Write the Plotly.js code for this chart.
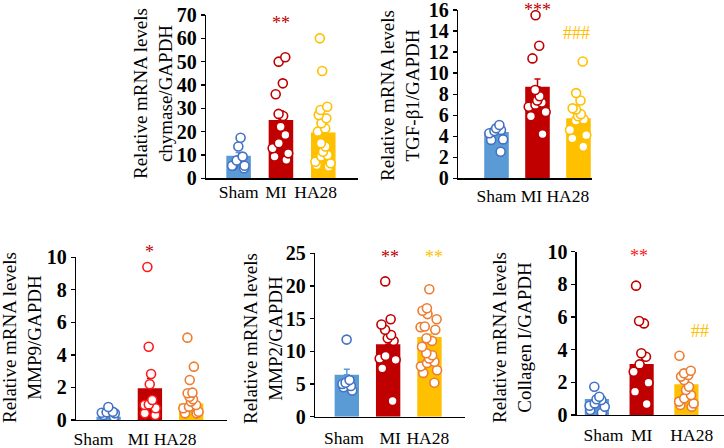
<!DOCTYPE html>
<html>
<head>
<meta charset="utf-8">
<script src="https://cdn.plot.ly/plotly-3.0.1.min.js"></script>
<style>
  html, body { margin: 0; padding: 0; background: #fff; }
  #chart { width: 724px; height: 448px; }
</style>
</head>
<body>
<div id="chart"></div>
<script>
// Data ------------------------------------------------------------------------
const groups = ['Sham', 'MI', 'HA28']

const chymaseMean = [9.7, 25.0, 19.6]
const chymaseSem = [1.4, 3.9, 2.4]
const chymaseSham = [17.4, 13.6, 9.3, 7.6, 5.4, 5.4, 5.4, 4.3]
const chymaseMI = [51.9, 50.0, 40.7, 36.0, 27.6, 26.7, 22.1, 18.6, 15.0, 12.9, 10.7, 9.3, 7.9]
const chymaseHA28 = [60.0, 46.0, 30.7, 29.3, 27.1, 25.7, 23.6, 21.4, 20.0, 15.0, 13.6, 11.4, 10.0, 9.3, 7.1, 6.4, 5.7, 5.0]

const tgfMean = [4.4, 8.7, 5.7]
const tgfSem = [0.3, 0.75, 0.35]
const tgfSham = [5.07, 4.75, 4.6, 4.5, 4.28, 3.7, 3.65, 2.53]
const tgfMI = [15.5, 12.6, 11.4, 8.4, 7.8, 7.4, 7.2, 7.0, 6.8, 6.3, 5.9, 4.2]
const tgfHA28 = [11.1, 8.1, 7.4, 6.65, 6.55, 6.1, 5.9, 5.6, 5.5, 4.6, 4.1, 3.8, 3.0]

const mmp9Mean = [0.2, 1.95, 1.02]
const mmp9Sem = [0.05, 0.6, 0.15]
const mmp9Sham = [0.8, 0.5, 0.47, 0.45, 0.41, 0.3, 0.2]
const mmp9MI = [9.4, 4.5, 2.83, 2.2, 1.23, 0.96, 0.92, 0.72, 0.41, 0.3]
const mmp9HA28 = [5.06, 3.28, 2.46, 1.68, 1.64, 1.43, 1.27, 1.13, 0.92, 0.82, 0.72, 0.51, 0.41, 0.41]

const mmp2Mean = [6.4, 11.1, 12.2]
const mmp2Sem = [0.85, 0.7, 0.4]
const mmp2Sham = [11.8, 5.6, 5.2, 5.0, 4.7, 4.5, 4.0]
const mmp2MI = [20.7, 14.9, 14.1, 13.3, 12.5, 12.0, 11.6, 9.3, 8.9, 8.7, 7.4, 2.4]
const mmp2HA28 = [19.5, 16.6, 16.2, 15.7, 14.9, 13.8, 13.7, 13.3, 12.0, 11.6, 10.7, 9.7, 9.4, 8.9, 8.4, 8.2, 7.7, 7.1, 6.7, 5.2]

const colMean = [0.98, 3.12, 1.88]
const colSem = [0.1, 0.5, 0.17]
const colSham = [1.73, 1.12, 0.96, 0.92, 0.71, 0.57, 0.51, 0.31, 0.14]
const colMI = [7.92, 5.76, 5.61, 3.78, 3.57, 3.1, 2.65, 1.98, 1.43, 0.67]
const colHA28 = [3.63, 2.71, 2.55, 2.45, 2.35, 2.14, 1.73, 1.53, 1.22, 1.02, 0.82, 0.71, 0.61, 0.51]

// Styles ----------------------------------------------------------------------
const W = 724
const H = 448
const FONT = '"Liberation Serif", "Times New Roman", serif'
const barColours = ['#5b9bd5', '#c00000', '#ffc000']
const BLUE = '#4472c4'
const DARKRED = '#c00000'
const RED = '#ff1a1a'
const GOLD = '#ffc000'
const ORANGE = '#ed7d31'

// pixel boxes: [left, right, top, bottom]
const panels = [
  {
    title: 'chymase/GAPDH', mean: chymaseMean, sem: chymaseSem,
    points: [chymaseSham, chymaseMI, chymaseHA28], dots: [BLUE, DARKRED, GOLD],
    box: [206, 358, 15, 178.3], xr: [-0.77, 2.82], yr: [0, 70], dtick: 10, bw: 0.58,
    shift: [0, -0.12, -0.18], standoff: -3, tx: 153, ty: 94,
    marks: [{ text: '**', g: 1, dx: 0, y: 66.5, c: DARKRED }]
  },
  {
    title: 'TGF-β1/GAPDH', mean: tgfMean, sem: tgfSem,
    points: [tgfSham, tgfMI, tgfHA28], dots: [BLUE, DARKRED, GOLD],
    box: [458, 592, 10, 178.3], xr: [-0.94, 2.33], yr: [0, 16], dtick: 2, bw: 0.6,
    shift: [0, -0.15, -0.26], standoff: 1, tx: 400, ty: 96,
    marks: [
      { text: '***', g: 1, dx: 0, y: 16.0, c: DARKRED },
      { text: '###', g: 2, dx: -0.05, y: 13.8, c: GOLD }
    ]
  },
  {
    title: 'MMP9/GAPDH', mean: mmp9Mean, sem: mmp9Sem,
    points: [mmp9Sham, mmp9MI, mmp9HA28], dots: [BLUE, RED, ORANGE],
    box: [76, 226.7, 257.3, 420], xr: [-0.79, 2.86], yr: [0, 10], dtick: 2, bw: 0.59,
    shift: [-0.37, -0.28, -0.39], standoff: 3, tx: 22, ty: 338,
    marks: [{ text: '*', g: 1, dx: 0, y: 10.3, c: DARKRED }]
  },
  {
    title: 'MMP2/GAPDH', mean: mmp2Mean, sem: mmp2Sem,
    points: [mmp2Sham, mmp2MI, mmp2HA28], dots: [BLUE, DARKRED, ORANGE],
    box: [315, 465, 253.3, 416.7], xr: [-0.77, 2.86], yr: [0, 25], dtick: 5, bw: 0.59,
    shift: [-0.07, 0.05, -0.04], standoff: 5, tx: 263, ty: 339,
    marks: [
      { text: '**', g: 1, dx: 0.05, y: 24.4, c: DARKRED },
      { text: '**', g: 2, dx: 0.1, y: 24.4, c: GOLD }
    ]
  },
  {
    title: 'Collagen I/GAPDH', mean: colMean, sem: colSem,
    points: [colSham, colMI, colHA28], dots: [BLUE, DARKRED, ORANGE],
    box: [576.7, 724, 251.7, 415], xr: [-0.45, 2.84], yr: [0, 10], dtick: 2, bw: 0.54,
    shift: [0.15, 0, 0.12], standoff: 4, tx: 512, ty: 338,
    marks: [
      { text: '**', g: 1, dx: -0.05, y: 9.75, c: RED },
      { text: '##', g: 2, dx: 0.3, y: 5.15, c: GOLD }
    ]
  }
]

// Build -----------------------------------------------------------------------
const traces = []
const annotations = []
const layout = {
  width: W,
  height: H,
  margin: { l: 0, r: 0, t: 0, b: 0 },
  paper_bgcolor: '#fff',
  plot_bgcolor: 'rgba(0,0,0,0)',
  showlegend: false,
  barmode: 'overlay',
  boxmode: 'overlay',
  font: { family: FONT, color: '#000' },
  annotations
}

panels.forEach((p, k) => {
  const n = k === 0 ? '' : String(k + 1)
  const xa = 'x' + n
  const ya = 'y' + n
  const [l, r, t, b] = p.box

  groups.forEach((g, i) => {
    traces.push({
      type: 'bar',
      x: [i],
      y: [p.mean[i]],
      width: p.bw,
      xaxis: xa,
      yaxis: ya,
      marker: { color: barColours[i], line: { width: 0 } },
      error_y: {
        type: 'data',
        symmetric: false,
        array: [p.sem[i]],
        arrayminus: [0],
        color: barColours[i],
        thickness: 1.5,
        width: 3
      },
      hoverinfo: 'skip'
    })
    traces.push({
      type: 'box',
      y: p.points[i],
      x0: i,
      width: p.bw * 0.95,
      xaxis: xa,
      yaxis: ya,
      boxpoints: 'all',
      jitter: 0.9,
      pointpos: 0,
      fillcolor: 'rgba(0,0,0,0)',
      line: { width: 0, color: 'rgba(0,0,0,0)' },
      whiskerwidth: 0,
      marker: {
        symbol: 'circle',
        size: 9,
        color: '#fff',
        line: { color: p.dots[i], width: 1.6 }
      },
      hoveron: 'points'
    })
  })

  layout['xaxis' + n] = {
    domain: [l / W, r / W],
    anchor: ya,
    range: p.xr,
    tickvals: groups.map((g, i) => i + p.shift[i]),
    ticktext: groups,
    tickangle: 0,
    ticks: '',
    ticklabelstandoff: p.standoff,
    ticklabeloverflow: 'allow',
    tickfont: { family: FONT, size: 17.5, color: '#000' },
    showline: true,
    linecolor: '#000',
    linewidth: 1.3,
    showgrid: false,
    zeroline: false,
    fixedrange: true
  }
  layout['yaxis' + n] = {
    domain: [1 - b / H, 1 - t / H],
    anchor: xa,
    range: p.yr,
    tick0: 0,
    dtick: p.dtick,
    ticks: 'outside',
    ticklen: 4,
    tickwidth: 1.3,
    tickcolor: '#000',
    ticklabeloverflow: 'allow',
    tickfont: { family: FONT, size: 20, color: '#000', weight: 'bold' },
    showline: true,
    linecolor: '#000',
    linewidth: 1.3,
    showgrid: false,
    zeroline: false,
    fixedrange: true
  }

  annotations.push({
    xref: 'paper',
    yref: 'paper',
    x: p.tx / W,
    y: 1 - p.ty / H,
    xanchor: 'center',
    yanchor: 'middle',
    textangle: -90,
    showarrow: false,
    text: 'Relative mRNA levels<br>' + p.title,
    font: { family: FONT, size: 19, color: '#000' }
  })

  // significance marks: placed against the axis domain so they may sit above the range
  p.marks.forEach(m => annotations.push({
    xref: xa,
    yref: ya + ' domain',
    x: m.g + m.dx,
    y: m.y / p.yr[1],
    xanchor: 'center',
    yanchor: 'middle',
    showarrow: false,
    text: m.text,
    font: { family: FONT, size: 18, color: m.c }
  }))
})

Plotly.newPlot('chart', traces, layout, { staticPlot: true })
</script>
</body>
</html>
